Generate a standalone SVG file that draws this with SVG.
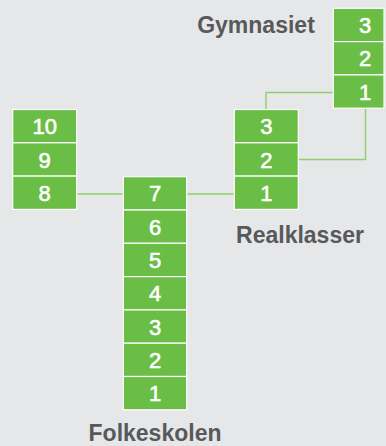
<svg xmlns="http://www.w3.org/2000/svg" width="386" height="446" viewBox="0 0 386 446">
<style>
.b{fill:#6abd45;stroke:#ffffff;stroke-width:1.2}
.n{font-family:"Liberation Sans",Arial,sans-serif;font-size:22px;fill:#ffffff;stroke:#ffffff;stroke-width:0.6;text-anchor:middle}
.l{font-family:"Liberation Sans",Arial,sans-serif;font-size:23px;font-weight:bold;fill:#58595b}
.c{fill:none;stroke:#8dcf6b;stroke-width:1.4}
</style>
<rect width="386" height="446" fill="#e6e7e9"/>
<g id="connectors">
<line class="c" x1="77" y1="194" x2="123" y2="194"/>
<line class="c" x1="187" y1="194" x2="234" y2="194"/>
<polyline class="c" points="298.5,159.5 365.5,159.5 365.5,108.5"/>
<polyline class="c" points="333,92.5 266,92.5 266,109.5"/>
</g>
<g id="left">
<rect class="b" x="12.7" y="109.5" width="64" height="33.3"/><text class="n" x="44.7" y="134.3">10</text>
<rect class="b" x="12.7" y="142.8" width="64" height="33.3"/><text class="n" x="44.7" y="167.6">9</text>
<rect class="b" x="12.7" y="176.1" width="64" height="33.3"/><text class="n" x="44.7" y="200.9">8</text>
</g>
<g id="folkeskolen">
<rect class="b" x="123.3" y="176.7" width="63.4" height="33.3"/><text class="n" x="155" y="201.3">7</text>
<rect class="b" x="123.3" y="210" width="63.4" height="33.3"/><text class="n" x="155" y="234.6">6</text>
<rect class="b" x="123.3" y="243.3" width="63.4" height="33.3"/><text class="n" x="155" y="267.9">5</text>
<rect class="b" x="123.3" y="276.6" width="63.4" height="33.3"/><text class="n" x="155" y="301.2">4</text>
<rect class="b" x="123.3" y="309.9" width="63.4" height="33.3"/><text class="n" x="155" y="334.5">3</text>
<rect class="b" x="123.3" y="343.2" width="63.4" height="33.3"/><text class="n" x="155" y="367.8">2</text>
<rect class="b" x="123.3" y="376.5" width="63.4" height="33.3"/><text class="n" x="155" y="401.1">1</text>
<text class="l" x="155" y="441" text-anchor="middle">Folkeskolen</text>
</g>
<g id="realklasser">
<rect class="b" x="234.3" y="109.5" width="64" height="33.3"/><text class="n" x="266.3" y="134.3">3</text>
<rect class="b" x="234.3" y="142.8" width="64" height="33.3"/><text class="n" x="266.3" y="167.6">2</text>
<rect class="b" x="234.3" y="176.1" width="64" height="33.3"/><text class="n" x="266.3" y="200.9">1</text>
<text class="l" x="300" y="242.7" text-anchor="middle">Realklasser</text>
</g>
<g id="gymnasiet">
<rect class="b" x="333.3" y="8.3" width="50.7" height="33.3"/><text class="n" x="365" y="33.1">3</text>
<rect class="b" x="333.3" y="41.6" width="50.7" height="33.3"/><text class="n" x="365" y="66.4">2</text>
<rect class="b" x="333.3" y="74.9" width="50.7" height="33.3"/><text class="n" x="365" y="99.7">1</text>
<text class="l" x="256" y="33.3" text-anchor="middle">Gymnasiet</text>
</g>
</svg>
